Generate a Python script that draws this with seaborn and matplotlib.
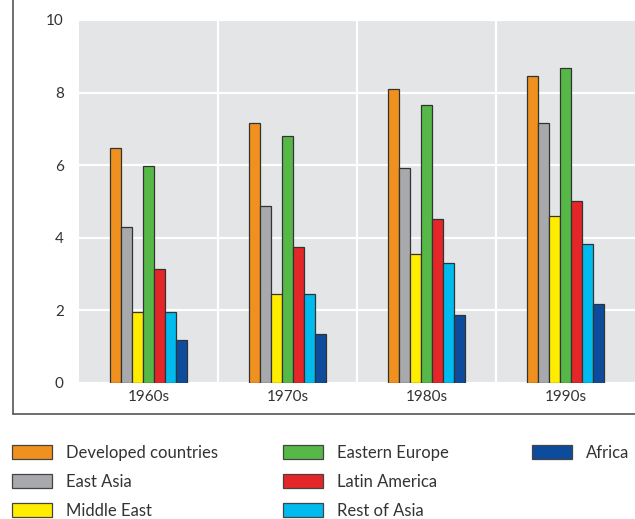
import pandas as pd
import matplotlib
matplotlib.use("Agg")
import matplotlib.pyplot as plt
import seaborn as sns
from matplotlib.patches import Patch
from matplotlib.lines import Line2D

# Values
decades = ["1960s", "1970s", "1980s", "1990s"]
regions = ["Developed countries", "East Asia", "Middle East", "Eastern Europe",
           "Latin America", "Rest of Asia", "Africa"]
developed = [6.48, 7.17, 8.10, 8.47]
east_asia = [4.31, 4.88, 5.93, 7.15]
middle_east = [1.95, 2.44, 3.54, 4.60]
eastern_europe = [5.99, 6.80, 7.66, 8.69]
latin_america = [3.15, 3.75, 4.51, 5.00]
rest_of_asia = [1.96, 2.46, 3.30, 3.82]
africa = [1.19, 1.35, 1.86, 2.17]
colors = ["#F0901E", "#A7A9AC", "#FFED00", "#56B947", "#E52629", "#00BCEE", "#0D4C9C"]

series = [developed, east_asia, middle_east, eastern_europe,
          latin_america, rest_of_asia, africa]
rows = []
for reg, vals in zip(regions, series):
    for dec, v in zip(decades, vals):
        rows.append({"decade": dec, "region": reg, "value": v})
df = pd.DataFrame(rows)

sns.set_style("white")
plt.rcParams["font.family"] = ["Lato", "DejaVu Sans"]
text_col = "#333333"

fig = plt.figure(figsize=(6.35, 5.19), dpi=100)
ax = fig.add_axes([79 / 635, 1 - 383 / 519, 1 - 79 / 635, (383 - 20) / 519])
ax.set_facecolor("#E4E5E7")

sns.barplot(data=df, x="decade", y="value", hue="region", order=decades,
            hue_order=regions, palette=dict(zip(regions, colors)), saturation=1,
            width=0.56, edgecolor="#333333", linewidth=0.9, ax=ax, legend=False)

ax.set_xlim(-0.5, 3.5)
ax.set_ylim(0, 10)
ax.set_yticks([0, 2, 4, 6, 8, 10])
ax.set_xticks([0.5, 1.5, 2.5], minor=True)
ax.set_axisbelow(True)
ax.grid(False)
ax.yaxis.grid(True, color="white", linewidth=1.6)
ax.xaxis.grid(True, which="minor", color="white", linewidth=1.6)
for s in ax.spines.values():
    s.set_visible(False)
ax.tick_params(axis="both", which="both", length=0, labelsize=11, colors=text_col)
ax.tick_params(axis="y", pad=11)
ax.tick_params(axis="x", pad=5)
ax.set_xlabel("")
ax.set_ylabel("")

# frame around the chart (cropped at top/right)
x0 = 13 / 635
y0 = 1 - 414 / 519
fig.add_artist(Line2D([x0, x0], [y0, 1], color="#555555", linewidth=1.2))
fig.add_artist(Line2D([x0, 1], [y0, y0], color="#555555", linewidth=1.2))

# legend in three columns
handles = [Patch(facecolor=c, edgecolor="#444444", linewidth=0.9) for c in colors]
col_x = [12 / 635, 283 / 635, 532 / 635]
groups = [(0, 3), (3, 6), (6, 7)]
for cx, (a, b) in zip(col_x, groups):
    leg = fig.legend(handles[a:b], regions[a:b], loc="upper left",
                     bbox_to_anchor=(cx, 1 - 445 / 519), frameon=False,
                     fontsize=12, handlelength=2.4, handleheight=0.9,
                     handletextpad=0.85, labelspacing=0.78, borderpad=0,
                     borderaxespad=0)
    for t in leg.get_texts():
        t.set_color(text_col)

fig.savefig("out.png", dpi=100)
